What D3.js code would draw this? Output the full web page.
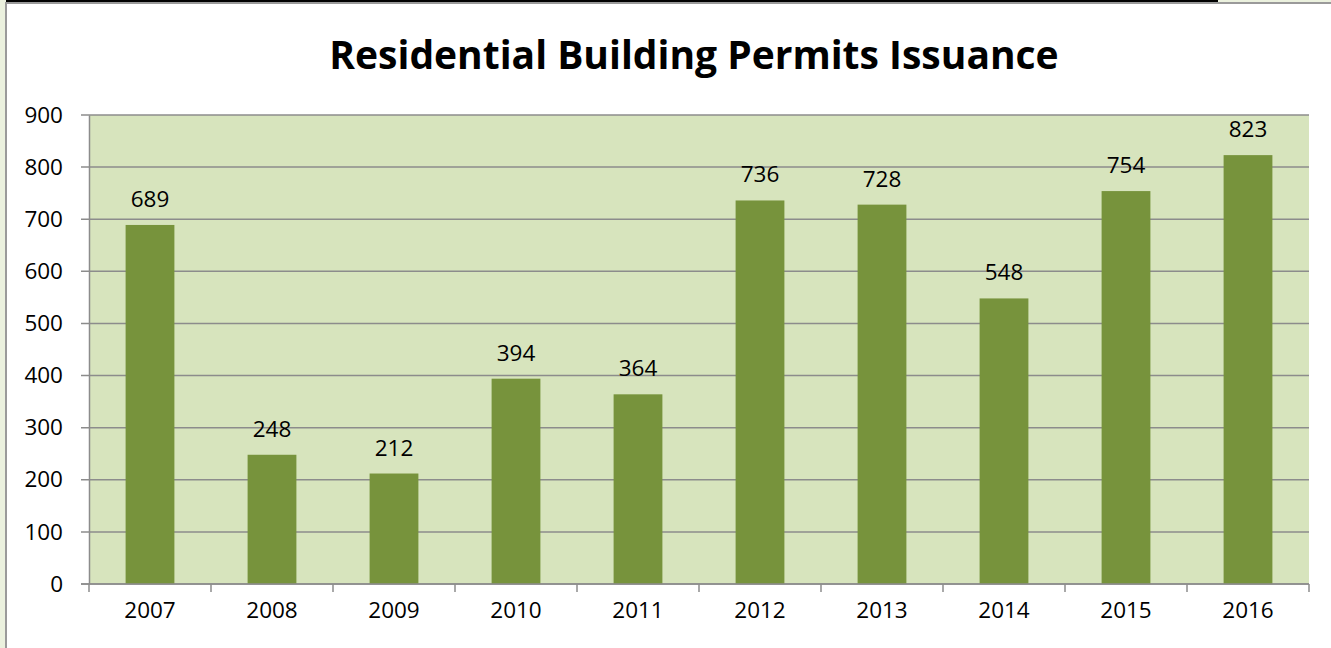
<!doctype html>
<html lang="en">
<head>
  <meta charset="utf-8">
  <title>Residential Building Permits Issuance</title>
  <script src="https://cdnjs.cloudflare.com/ajax/libs/d3/7.8.5/d3.min.js"></script>
  <style>
    body { margin: 0; background: #fff; }
    svg { display: block; font-family: "Open Sans", sans-serif; }
  </style>
</head>
<body>
  <div id="chart"></div>
  <script>
// chart data
var years = ["2007", "2008", "2009", "2010", "2011", "2012", "2013", "2014", "2015", "2016"];
var permits = [689, 248, 212, 394, 364, 736, 728, 548, 754, 823];
var yTicks = [0, 100, 200, 300, 400, 500, 600, 700, 800, 900];

var W = 1331, H = 648;
var margin = {top: 115, right: 22, bottom: 64, left: 89},
    width = W - margin.left - margin.right,
    height = H - margin.top - margin.bottom;

var svg = d3.select("#chart")
  .append("svg")
    .attr("width", W)
    .attr("height", H);

// outer frame bits
svg.append("rect").attr("x", 0).attr("y", 0).attr("width", 6).attr("height", H).attr("fill", "#ebf1de");
svg.append("rect").attr("x", 6).attr("y", 0).attr("width", W).attr("height", 2).attr("fill", "#ebf1de");
svg.append("rect").attr("x", 6).attr("y", 0).attr("width", 1212).attr("height", 2).attr("fill", "#000");
svg.append("line").attr("x1", 6).attr("x2", W).attr("y1", 3).attr("y2", 3)
  .attr("stroke", "#9a9a9a").attr("stroke-width", 2);
svg.append("line").attr("x1", 6).attr("x2", 6).attr("y1", 2).attr("y2", H)
  .attr("stroke", "#9a9a9a").attr("stroke-width", 2);

// title
svg.append("text")
  .attr("x", 694)
  .attr("y", 69)
  .attr("text-anchor", "middle")
  .style("font-size", "39px")
  .style("font-weight", "bold")
  .text("Residential Building Permits Issuance");

var g = svg.append("g")
  .attr("transform", "translate(" + margin.left + "," + margin.top + ")");

var x = d3.scaleBand()
  .domain(years)
  .range([0, width]);

var y = d3.scaleLinear()
  .domain([0, 900])
  .range([height, 0]);

// plot background
g.append("rect")
  .attr("width", width)
  .attr("height", height)
  .attr("fill", "#d7e4bd");

// gridlines
g.selectAll(".grid")
  .data(yTicks)
  .enter()
  .append("line")
    .attr("x1", -8)
    .attr("x2", width)
    .attr("y1", function(d) { return y(d); })
    .attr("y2", function(d) { return y(d); })
    .attr("stroke", "#8c8c8c")
    .attr("stroke-width", 1.5);

// Y axis
var yAxis = g.append("g")
  .call(d3.axisLeft(y).tickValues(yTicks).tickSize(0).tickPadding(26));
yAxis.select(".domain").attr("stroke", "#8c8c8c").attr("stroke-width", 1.5);
yAxis.selectAll("text").style("font-size", "22.5px").style("font-family", "Open Sans").attr("fill", "#000");

// X axis
var xAxis = g.append("g")
  .attr("transform", "translate(0," + height + ")")
  .call(d3.axisBottom(x).tickSize(0).tickPadding(18));
xAxis.select(".domain").remove();
xAxis.selectAll("text").style("font-size", "22.5px").style("font-family", "Open Sans").attr("fill", "#000");

// boundary ticks between categories
var bounds = years.map(function(d) { return x(d); }).concat([width]);
g.selectAll(".xtick")
  .data(bounds)
  .enter()
  .append("line")
    .attr("x1", function(d) { return d; })
    .attr("x2", function(d) { return d; })
    .attr("y1", height)
    .attr("y2", height + 8)
    .attr("stroke", "#8c8c8c")
    .attr("stroke-width", 1.5);

// bars
var bw = x.bandwidth() * 0.4;
g.selectAll(".bar")
  .data(permits)
  .enter()
  .append("rect")
    .attr("x", function(d, i) { return x(years[i]) + (x.bandwidth() - bw) / 2; })
    .attr("y", function(d) { return y(d); })
    .attr("width", bw)
    .attr("height", function(d) { return height - y(d); })
    .attr("fill", "#77933c");

// value labels
g.selectAll(".lbl")
  .data(permits)
  .enter()
  .append("text")
    .attr("x", function(d, i) { return x(years[i]) + x.bandwidth() / 2; })
    .attr("y", function(d) { return y(d) - 18; })
    .attr("text-anchor", "middle")
    .style("font-size", "22.5px")
    .text(function(d) { return d; });

// x axis line on top of bars
g.append("line")
  .attr("x1", -8).attr("x2", width)
  .attr("y1", height).attr("y2", height)
  .attr("stroke", "#8c8c8c").attr("stroke-width", 1.5);
  </script>
</body>
</html>
